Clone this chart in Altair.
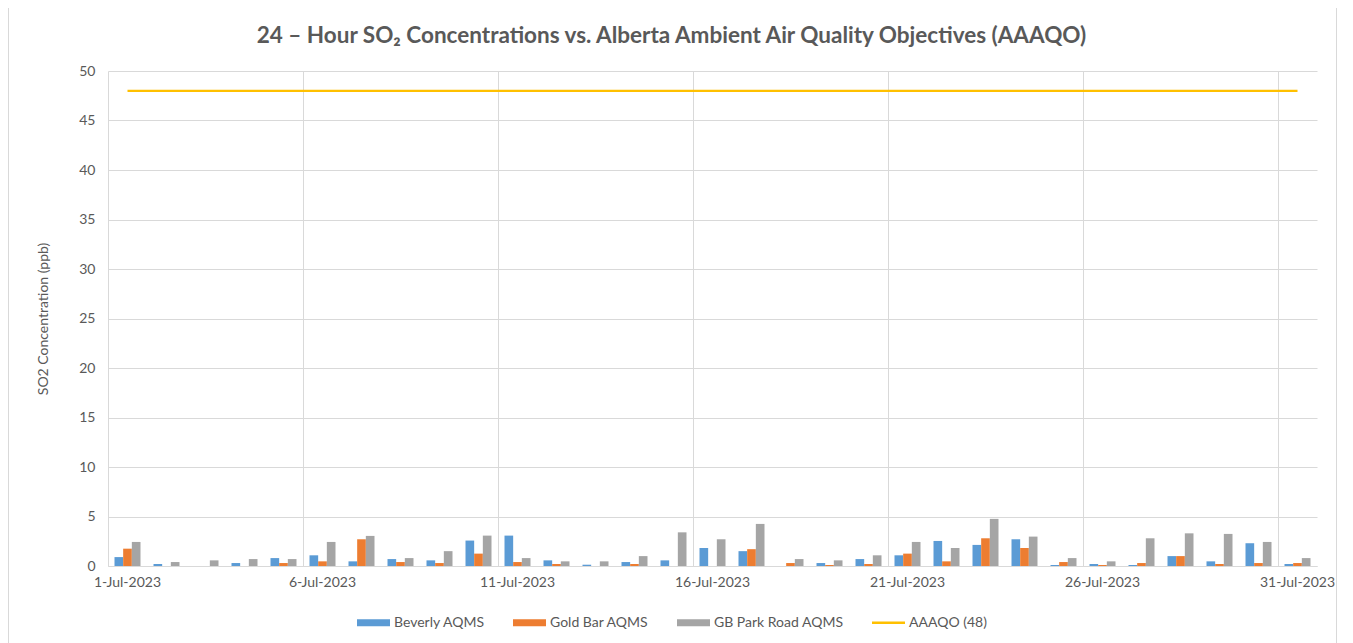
import altair as alt
import pandas as pd

# ---- data ----
days = [f"{d}-Jul-2023" for d in range(1, 32)]
series_names = ["Beverly AQMS", "Gold Bar AQMS", "GB Park Road AQMS", "AAAQO (48)"]
series_colors = ["#5B9BD5", "#ED7D31", "#A5A5A5", "#FFC000"]

beverly = [0.9, 0.2, 0.0, 0.3, 0.8, 1.08, 0.47, 0.7, 0.57, 2.57, 3.07, 0.57, 0.13, 0.4, 0.57, 1.82,
           1.5, 0.0, 0.3, 0.7, 1.08, 2.53, 2.13, 2.7, 0.1, 0.2, 0.1, 1.0, 0.47, 2.3, 0.2]
gold_bar = [1.75, 0.0, 0.0, 0.0, 0.3, 0.47, 2.7, 0.4, 0.3, 1.25, 0.4, 0.2, 0.0, 0.2, 0.0, 0.0,
            1.7, 0.3, 0.1, 0.2, 1.25, 0.47, 2.8, 1.82, 0.4, 0.1, 0.3, 1.0, 0.2, 0.3, 0.3]
gb_park = [2.43, 0.4, 0.57, 0.7, 0.7, 2.43, 3.04, 0.8, 1.5, 3.07, 0.8, 0.47, 0.47, 1.0, 3.4, 2.7,
           4.25, 0.7, 0.57, 1.08, 2.43, 1.82, 4.76, 2.97, 0.8, 0.47, 2.8, 3.3, 3.24, 2.43, 0.8]
aaaqo = [48] * 31

x_label_days = ["1-Jul-2023", "6-Jul-2023", "11-Jul-2023", "16-Jul-2023",
                "21-Jul-2023", "26-Jul-2023", "31-Jul-2023"]
y_ticks = [0, 5, 10, 15, 20, 25, 30, 35, 40, 45, 50]

bar_df = pd.DataFrame({
    "date": days * 3,
    "series": [series_names[0]] * 31 + [series_names[1]] * 31 + [series_names[2]] * 31,
    "value": beverly + gold_bar + gb_park,
})
line_df = pd.DataFrame({"date": days, "value": aaaqo})

FONT = "Lato"
GRID = "#D9D9D9"
TXT = "#595959"

x_scale = alt.Scale(domain=days, paddingInner=0, paddingOuter=0)
y_scale = alt.Scale(domain=[0, 50], nice=False)

x_axis = alt.Axis(values=x_label_days, bandPosition=0, grid=True, gridColor=GRID,
                  ticks=False, tickSize=0, domainColor=GRID, labelAngle=0,
                  labelFontSize=14, labelColor=TXT, labelFont=FONT, labelPadding=9,
                  title=None)
y_axis = alt.Axis(values=y_ticks, grid=True, gridColor=GRID, ticks=False, tickSize=0,
                  domain=False, labelFontSize=14, labelColor=TXT, labelFont=FONT,
                  labelPadding=13, title="SO2 Concentration (ppb)", titleFontSize=14,
                  titleFont=FONT, titleColor=TXT, titleFontWeight="normal", titlePadding=28)

legend = alt.Legend(
    title=None, orient="none", direction="horizontal", legendX=249, legendY=535,
    symbolSize=1089,
    symbolType=alt.ExprRef(expr="datum.value == 'AAAQO (48)' ? 'M-1,-0.07H1V0.07H-1Z' : 'M-1,-0.21H1V0.21H-1Z'"),
    symbolStrokeWidth=0, symbolOpacity=1, labelFont=FONT, labelFontSize=14, labelColor=TXT,
    labelOffset=4, columnPadding=28, labelLimit=300,
)

bars = alt.Chart(bar_df).mark_bar(opacity=1).encode(
    x=alt.X("date:N", sort=days, scale=x_scale, axis=x_axis),
    xOffset=alt.XOffset("series:N", sort=series_names[:3],
                        scale=alt.Scale(domain=series_names[:3], paddingInner=0, paddingOuter=0.75)),
    y=alt.Y("value:Q", scale=y_scale, axis=y_axis),
    color=alt.Color("series:N", scale=alt.Scale(domain=series_names, range=series_colors),
                    legend=legend),
)

line = alt.Chart(line_df).mark_line(strokeWidth=2.25, color="#FFC000").encode(
    x=alt.X("date:N", sort=days, scale=x_scale),
    y=alt.Y("value:Q", scale=y_scale),
)

# light outer chart frame (decoration only)
frame = alt.Chart(alt.Data(values=[{}])).mark_rect(
    fill=None, stroke="#D9D9D9", strokeWidth=1
).encode(
    x=alt.value(-99.5), x2=alt.value(1228.5), y=alt.value(-90), y2=alt.value(700)
)

chart = alt.layer(bars, line, frame).properties(
    width=1209, height=495,
    autosize=alt.AutoSizeParams(type="none"),
    padding={"left": 100, "top": 63, "right": 28, "bottom": 77},
    title=alt.TitleParams(
        text="24 – Hour SO₂ Concentrations vs. Alberta Ambient Air Quality Objectives (AAAQO)",
        font=FONT, fontSize=22.5, fontWeight="bold", color=TXT, anchor="middle",
        frame="group", dx=-41, offset=-67,
    ),
).configure(background="white").configure_view(stroke=None)

chart.save("out.html", embed_options={"renderer": "svg", "actions": False})
